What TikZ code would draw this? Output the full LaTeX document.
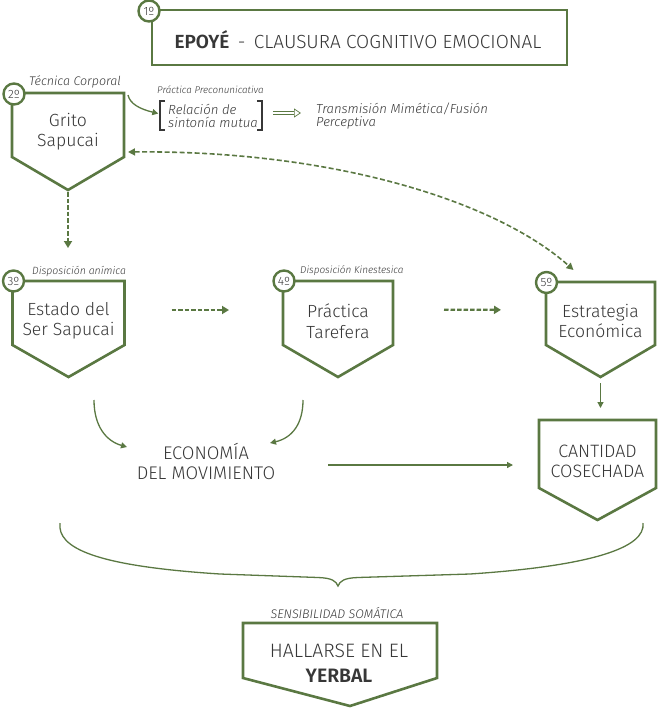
\documentclass[tikz,border=0pt]{standalone}
\usepackage{fontspec}
\setmainfont{Fira Sans}[UprightFont=* Light, ItalicFont=* Light Italic, BoldFont=* SemiBold, BoldItalicFont=* SemiBold Italic]
\usetikzlibrary{arrows.meta,calc}
\definecolor{grn}{RGB}{90,120,66}
\definecolor{txt}{RGB}{55,55,55}
\newcommand\pentbox[2]{\draw[boxline] (#1.north west) -- (#1.north east) -- (#1.south east) -- ($(#1.south)+(0,#2)$) -- (#1.south west) -- cycle;}
\begin{document}
\begin{tikzpicture}[x=1pt,y=-1pt,
  boxline/.style={draw=grn, line width=2.6pt},
  boxnode/.style={inner sep=0pt, outer sep=0pt},
  boxtext/.style={text=txt, align=center, font=\fontsize{17.6}{20.5}\selectfont, inner sep=0pt},
  numcirc/.style={circle, draw=grn, line width=2.4pt, fill=white, minimum size=21pt, inner sep=0pt, text=txt, font=\fontsize{12}{12}\selectfont},
  smalllab/.style={text=txt, font=\itshape\fontsize{10.5}{10.5}\selectfont, inner sep=0pt, anchor=west},
  dasharrow/.style={draw=grn, line width=2.2pt, dash pattern=on 4.5pt off 2pt, -{Triangle[length=7pt,width=8pt]}},
  thinarr/.style={draw=grn, line width=1.3pt, -{Triangle[length=6pt,width=6pt]}},
  dcurve/.style={draw=grn, line width=1.6pt, dash pattern=on 5pt off 2.5pt, {Triangle[length=7pt,width=7pt]}-{Triangle[length=7pt,width=7pt]}},
  bracketline/.style={draw=txt, line width=1.6pt},
  ]
\useasboundingbox (0,0) rectangle (660,710);

% ---- top box
\node[boxnode, draw=grn, line width=2.6pt, minimum width=415pt, minimum height=55pt] (epoye) at (359.5,37.5) {};
\node[boxtext, font=\fontsize{19}{19}\selectfont] (epoyeT) at (358,40) {\textbf{EPOYÉ} \,-\, CLAUSURA COGNITIVO EMOCIONAL};
\node[numcirc] (n1) at (149,11) {1º};

% ---- Grito Sapucai
\node[boxnode, minimum width=112pt, minimum height=64pt] (grito) at (68,125) {};
\pentbox{grito}{33}
\node[boxtext] (gritoT) at (68,131.5) {Grito\\Sapucai};
\node[numcirc] (n2) at (14,94) {2º};
\node[smalllab, font=\itshape\fontsize{12.5}{12.5}\selectfont] (tecnica) at (29,82) {Técnica Corporal};

% ---- precomunicativa
\node[smalllab, font=\itshape\fontsize{9.8}{9.8}\selectfont] (prac) at (157,90) {Práctica Preconunicativa};
\node[text=txt, font=\itshape\fontsize{13.2}{13.8}\selectfont, align=left, inner sep=0pt, anchor=west] (rel) at (168,116) {Relación de\\sintonía mutua};
\draw[bracketline] ($(rel.west)+(-3,-15)$) -- ($(rel.west)+(-8,-15)$) -- ($(rel.west)+(-8,14)$) -- ($(rel.west)+(-3,14)$);
\draw[bracketline] ($(rel.east)+(-1,-15)$) -- ($(rel.east)+(4,-15)$) -- ($(rel.east)+(4,14)$) -- ($(rel.east)+(-1,14)$);
\node[text=txt, font=\itshape\fontsize{13.1}{13.8}\selectfont, align=left, inner sep=0pt, anchor=west] (trans) at (316,116) {Transmisión Mimética/Fusión\\Perceptiva};
\draw[draw=grn, double=white, double distance=2pt, line width=0.7pt, -{Triangle[open,length=7pt,width=9pt]}, shorten <=15pt, shorten >=15pt] ([yshift=3pt]rel.east) -- ([yshift=3pt]trans.west);
\coordinate (gritoTR) at (128,95);
\draw[thinarr, shorten >=10pt] (gritoTR) .. controls (130,104) and (140,109) .. (rel.west);

% ---- row of three
\node[boxnode, minimum width=112pt, minimum height=64pt] (estado) at (68.5,313) {};
\pentbox{estado}{32}
\node[boxtext] (estadoT) at (68.5,321) {Estado del\\Ser Sapucai};
\node[numcirc] (n3) at (13.5,281) {3º};
\node[smalllab] (disp1) at (32,271) {Disposición anímica};

\node[boxnode, minimum width=110pt, minimum height=64pt] (practica) at (338,313) {};
\pentbox{practica}{32}
\node[boxtext] (practicaT) at (338,321) {Práctica\\Tarefera};
\node[numcirc] (n4) at (284,281) {4º};
\node[smalllab, font=\itshape\fontsize{10}{10}\selectfont] (disp2) at (300,271) {Disposición Kinestesica};

\node[boxnode, minimum width=109pt, minimum height=63pt] (estrategia) at (600.5,313.5) {};
\pentbox{estrategia}{32}
\node[boxtext] (estrategiaT) at (600.5,321) {Estrategia\\Económica};
\node[numcirc] (n5) at (546.5,282.5) {5º};

% connectors in the row
\draw[dasharrow] ($(grito.south)+(0,35)$) -- ($(estado.north)+(-0.5,-33)$);
\draw[dasharrow, shorten <=47pt, shorten >=54pt] ([yshift=3pt]estado.east) -- ([yshift=3pt]practica.west);
\draw[dasharrow, shorten <=51pt, shorten >=45pt] ([yshift=3.5pt]practica.east) -- ([yshift=3.5pt]estrategia.west);
\draw[dcurve] ($(grito.south east)+(4,-5)$) .. controls (330,150) and (495,200) .. ($(estrategia.north)+(-27,-12)$);

% ---- economia and cantidad
\node[boxtext, font=\fontsize{18.3}{20}\selectfont] (econ) at (206,461) {ECONOMÍA\\DEL MOVIMIENTO};
\node[boxnode, minimum width=117pt, minimum height=68pt] (cantidad) at (597.5,454) {};
\pentbox{cantidad}{32}
\node[boxtext, font=\fontsize{17.9}{20}\selectfont] (cantidadT) at (597.5,461) {CANTIDAD\\COSECHADA};
\draw[thinarr, shorten <=38pt, shorten >=12pt] (estrategia.south) -- (estrategia.south |- cantidad.north);
\draw[thinarr] ($(econ.east)+(53,4)$) -- ($(econ.east -| cantidad.west)+(-26,4)$);
\coordinate (eA) at (94,400);
\coordinate (eB) at (127,447);
\coordinate (eC) at (303,400);
\coordinate (eD) at (270,443);
\draw[thinarr] (eA) .. controls (94,426) and (106,441) .. (eB);
\draw[thinarr] (eC) .. controls (303,424) and (292,438) .. (eD);

% ---- brace
\draw[draw=grn, line width=1.3pt] (60,523) .. controls (57,548) and (95,566) .. (220,574) -- (318,577.5) .. controls (332,578) and (336,581) .. (338,586) .. controls (340,581) and (344,578) .. (358,577.5) -- (470,574) .. controls (590,566) and (646,548) .. (643,523);

% ---- hallarse
\node[text=txt, font=\itshape\fontsize{12.5}{12.5}\selectfont, inner sep=0pt] (sens) at (337,613) {SENSIBILIDAD SOMÁTICA};
\node[boxnode, minimum width=194pt, minimum height=55pt] (hallarse) at (340,650.5) {};
\draw[boxline] (hallarse.north west) -- (hallarse.north east) -- (hallarse.south east) -- ($(hallarse.south)+(10,28)$) -- (hallarse.south west) -- cycle;
\node[boxtext, font=\fontsize{19.4}{25}\selectfont] (hallarseT) at (339,663) {HALLARSE EN EL\\\textbf{YERBAL}};
\end{tikzpicture}
\end{document}
